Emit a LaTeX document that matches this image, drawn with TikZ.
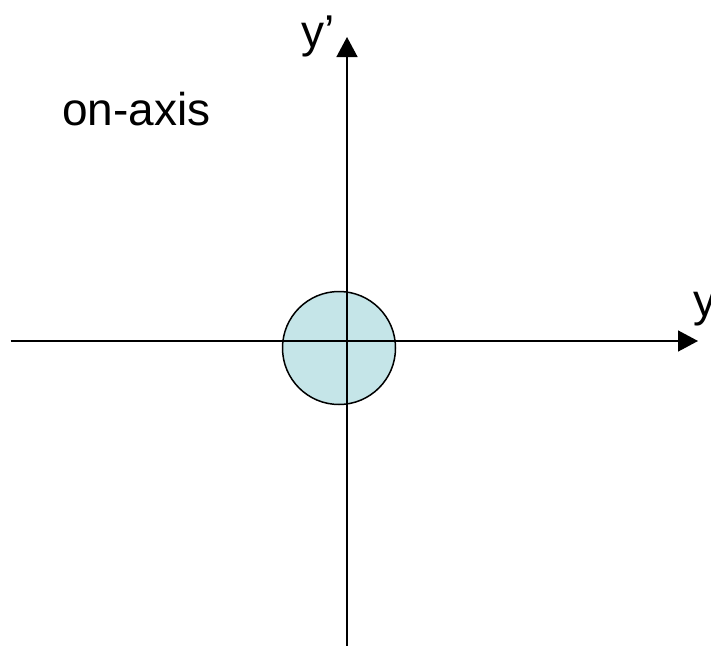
\documentclass[tikz,border=0pt]{standalone}
\usepackage{fontspec}
\setmainfont{Liberation Sans}
\usetikzlibrary{arrows.meta}
\definecolor{discfill}{RGB}{197,229,232}
\tikzset{
  axis/.style={line width=1.5pt, -{Triangle[length=20pt,width=21pt]}},
  lbl/.style={inner sep=0pt, anchor=base west, font=\fontsize{46}{55}\selectfont},
  disc/.style={circle, draw, line width=1.5pt, fill=discfill, minimum size=113pt, inner sep=0pt}
}
\begin{document}
\begin{tikzpicture}[x=1pt,y=-1pt]
\useasboundingbox (0,0) rectangle (711,645);
\node[disc] (c) at (339,348) {};
\coordinate (hl) at (10.5,341);
\coordinate (hr) at (698,341);
\coordinate (vb) at (347,646);
\coordinate (vt) at (347,37);
\draw[axis] (hl) -- (hr);
\draw[axis] (vb) -- (vt);
\node[lbl] (yp) at (301,47) {y’};
\node[lbl] (on) at (62,125) {on-axis};
\node[lbl] (y) at (693,316) {y};
\end{tikzpicture}
\end{document}
